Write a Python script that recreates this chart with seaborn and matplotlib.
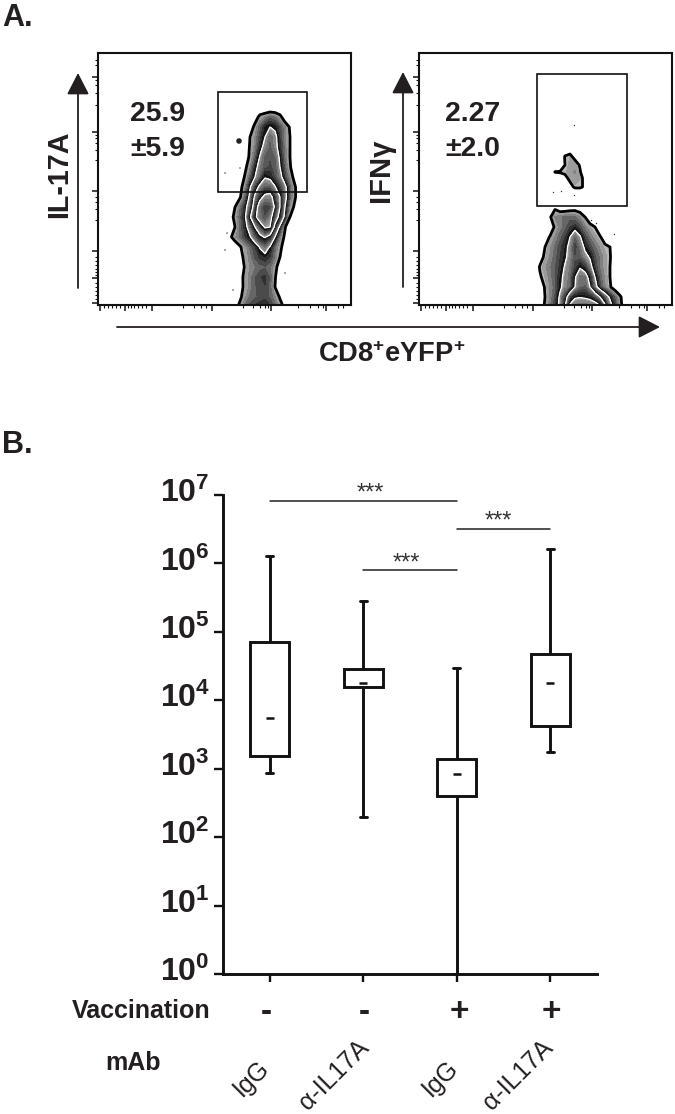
import matplotlib
matplotlib.use('Agg')
import matplotlib.pyplot as plt
from matplotlib.patches import FancyArrowPatch, Rectangle
from matplotlib.transforms import ScaledTranslation
import numpy as np
import pandas as pd
import seaborn as sns

W, H = 675, 1114
INK = '#231f20'

# panel B box plot, one five number summary per group
groups = ['IgG -', 'aIL17A -', 'IgG +', 'aIL17A +']
whisker_low = [870, 195, 1, 1780]
q1 = [1550, 15500, 400, 4250]
medians = [5600, 18000, 840, 18000]
q3 = [70000, 29000, 1380, 48000]
whisker_high = [1300000, 280000, 30000, 1600000]
vaccination = ['-', '-', '+', '+']
mab = ['IgG', 'α-IL17A', 'IgG', 'α-IL17A']
decades = [0, 1, 2, 3, 4, 5, 6, 7]

# significance bars: first group, last group, height, where the stars sit
sig_start = [0, 2, 1]
sig_end = [2, 3, 2]
sig_height = [8300000, 3200000, 790000]
sig_star = [1.08, 2.45, 1.46]

# panel A, density, contours at 1, 3, 5, 7
il17_x = [132, 137, 142, 147, 152, 157, 162, 167, 172, 177, 182, 187, 192, 197, 202]
il17_y = [198, 188, 178, 168, 158, 148, 138, 128, 118, 108, 98, 88, 78, 68, 58, 48, 38, 28, 18, 8, -2]
il17_density = [
    [0, 0, 0, 0, 0, 0, 0, 0, 0, 0, 0, 0, 0, 0, 0],
    [0, 0, 0, 0, 0, .5, 1.3, 1.6, 2, 1.8, 1.3, .4, 0, 0, 0],
    [0, 0, 0, 0, .4, 1.3, 2, 2.7, 3, 2.8, 2.2, 1.6, .9, 0, 0],
    [0, 0, 0, 0, 1, 1.6, 2.3, 3, 3.8, 3.3, 2.4, 1.7, 1, 0, 0],
    [0, 0, 0, .3, 1.1, 1.7, 2.6, 3.4, 3.9, 3.4, 2.5, 1.7, 1, 0, 0],
    [0, 0, 0, .4, 1.2, 2, 3.1, 3.9, 4.1, 3.8, 2.8, 1.8, 1, 0, 0],
    [0, 0, 0, .8, 1.5, 2.6, 3.5, 4, 4.2, 4, 3, 2, 1.1, .3, 0],
    [0, 0, .4, 1.1, 2, 3, 3.8, 4.9, 4.7, 4.1, 3.4, 2.3, 1.5, .6, 0],
    [0, 0, .7, 1.5, 2.9, 4.2, 5.4, 5.9, 5.9, 5.1, 4.2, 3.3, 2, 1.1, .2],
    [0, .2, .9, 1.9, 3.3, 5.3, 6.5, 7.4, 7.6, 6.2, 5, 3.4, 2, 1.1, .3],
    [.1, 1, 1.8, 2.6, 3.8, 6, 8, 9, 8.7, 6.7, 5, 3, 1.5, .8, 0],
    [.5, 1.3, 2, 2.8, 4.8, 6.6, 8, 8.6, 7.6, 5.8, 4.5, 2.6, 1, 0, 0],
    [.5, 1, 1.9, 2.6, 3.6, 5, 6, 7.2, 7, 4.6, 2.7, 1.1, 0, 0, 0],
    [.8, 1.5, 1.9, 2.4, 2.9, 3.8, 4.7, 5.1, 4.5, 3, 1.7, .8, 0, 0, 0],
    [0, .3, .9, 1.4, 1.9, 2.4, 3.1, 3.6, 2.9, 1.9, 1.2, .6, 0, 0, 0],
    [0, 0, .6, 1.3, 1.7, 2.2, 2.5, 2.7, 2.4, 1.8, 1, .2, 0, 0, 0],
    [0, 0, .4, 1.1, 1.6, 1.8, 2, 2.1, 1.9, 1.3, .5, 0, 0, 0, 0],
    [0, 0, .6, 1.3, 1.7, 2.1, 2.4, 2.5, 2.1, 1.1, .2, 0, 0, 0, 0],
    [0, 0, .7, 1.2, 1.7, 2.1, 2.3, 2.4, 2, 1, .2, 0, 0, 0, 0],
    [0, 0, .8, 1.5, 1.9, 2.1, 2.2, 2.3, 2.1, 1.6, .9, .1, 0, 0, 0],
    [0, .6, 1.3, 1.9, 2.3, 2.5, 2.7, 2.8, 2.5, 2, 1.4, .8, 0, 0, 0],
]
il17_dots_x = [141, 127, 142, 129, 127, 187, 135]
il17_dots_y = [164, 132, 137, 72, 55, 32, 15]

ifn_x = [116, 121, 126, 131, 136, 141, 146, 151, 156, 161, 166, 171, 176, 181, 186, 191, 196, 201, 206]
ifn_y = [98, 88, 78, 68, 58, 48, 38, 28, 18, 8, -2]
ifn_density = [
    [0, 0, 0, .6, .8, .3, .3, .4, .5, .3, 0, 0, 0, 0, 0, 0, 0, 0, 0],
    [0, 0, 0, .9, 1.6, 1.8, 1.9, 2, 1.9, 1.6, 1, .4, 0, 0, 0, 0, 0, 0, 0],
    [0, 0, 0, .2, 1.2, 1.7, 2, 2.4, 2.6, 2.2, 1.7, 1.3, 1, .3, 0, 0, 0, 0, 0],
    [0, 0, .4, 1.1, 1.6, 2, 2.4, 3, 3.8, 3.1, 2.3, 1.8, 1.4, 1.1, .5, 0, 0, 0, 0],
    [0, 0, 1, 1.5, 1.9, 2.3, 2.7, 3.3, 4.3, 3.6, 2.8, 2.3, 1.9, 1.5, 1.2, 1, .2, 0, 0],
    [0, .6, 1.2, 1.6, 2, 2.4, 2.8, 3.4, 4.1, 3.9, 3.3, 2.9, 2.2, 1.8, 1.4, 1.1, .2, 0, 0],
    [.3, 1.1, 1.5, 1.8, 2.1, 2.5, 3.1, 3.6, 4.2, 4.9, 4.4, 3.4, 2.4, 1.8, 1.4, 1, .2, 0, 0],
    [0, .9, 1.3, 1.7, 2.1, 2.7, 3.3, 3.7, 4.9, 5.7, 5.6, 4.5, 3, 2, 1.5, 1, .2, 0, 0],
    [0, .3, 1.1, 1.6, 2, 2.8, 3.4, 3.8, 5, 5.8, 5.9, 5, 3.5, 2.3, 1.6, 1.1, .5, 0, 0],
    [0, .1, 1, 1.6, 2.2, 3.2, 4.3, 6, 6.8, 6.9, 6.8, 6.6, 6, 5, 3.8, 2.8, 2, 1.2, .3],
    [0, .2, 1.2, 1.8, 2.4, 3.3, 5, 7.4, 8.2, 8.4, 8.4, 8.2, 8, 7.4, 5.5, 3.5, 2.5, 1.3, .5],
]
blob_x = [131, 136, 141, 146, 151, 156, 161, 166, 171]
blob_y = [157, 148, 140, 133, 127, 118, 112]
blob_density = [
    [0, 0, 0, .3, .4, 0, 0, 0, 0],
    [0, 0, 0, 1.1, 1.3, .7, 0, 0, 0],
    [0, 0, 0, 1, 1.4, 1.5, .9, 0, 0],
    [0, 1.05, 1.1, 1.2, 1.5, 1.6, 1.1, .2, 0],
    [0, 0, .3, .7, 1.3, 1.5, 1.3, .7, 0],
    [0, 0, 0, 0, .6, 1.2, 1.2, .8, 0],
    [0, 0, 0, 0, 0, 0, 0, 0, 0],
]
ifn_dots_x = [155, 134, 142, 155, 172, 177, 195]
ifn_dots_y = [180, 113, 114, 110, 85, 82, 71]

flow_major = [2, 27, 54, 114, 173, 228]
flow_minor = [6, 10, 14, 18, 22, 30, 33, 36, 40, 44, 48, 85, 96, 103, 108, 145, 155, 162, 167, 170, 200, 212, 220, 225, 240, 245]


def px_axes(left, top, right, bottom, **kw):
    return fig.add_axes([left / W, 1 - bottom / H, (right - left) / W, (bottom - top) / H], **kw)


def zebra(ax, x, y, density):
    # every band between two contours goes from grey to nearly black
    levels, colors = [], []
    for lo, hi, light in [(1, 3, 0.72), (3, 5, 0.62), (5, 7, 0.62), (7, 10, 0.62)]:
        steps = np.linspace(lo, hi, 8)[:-1]
        levels.extend(steps)
        colors.extend(str(g) for g in np.linspace(light, 0.08, 7))
    levels.append(10)
    ax.contourf(x, y, density, levels=levels, colors=colors)
    ax.contour(x, y, density, levels=[3, 5, 7], colors='white', linewidths=0.9)
    ax.contour(x, y, density, levels=[1], colors='black', linewidths=2)


def flow_panel(left, right, gate):
    ax = px_axes(left, 53, right, 305)
    ax.set_xlim(0, 253)
    ax.set_ylim(0, 252)
    for s in ax.spines.values():
        s.set_linewidth(1.5)
        s.set_color('#111111')
    ax.set_xticks(flow_major)
    ax.set_yticks(flow_major)
    ax.set_xticks(flow_minor, minor=True)
    ax.set_yticks(flow_minor, minor=True)
    ax.tick_params(which='major', length=4, width=1.1, labelbottom=False, labelleft=False, color='#111111')
    ax.tick_params(which='minor', length=2, width=0.8, color='#111111')
    ax.add_patch(Rectangle((gate[0], gate[1]), gate[2], gate[3], fill=False, ec='#111111', lw=1.2, zorder=4))
    return ax


sns.set_theme(style='ticks')
plt.rcParams['font.family'] = ['Liberation Sans', 'DejaVu Sans']
plt.rcParams['mathtext.fontset'] = 'custom'
plt.rcParams['mathtext.bf'] = 'Liberation Sans:bold'
plt.rcParams['mathtext.rm'] = 'Liberation Sans'

fig = plt.figure(figsize=(W / 100, H / 100), dpi=100, facecolor='white')

# full figure layer in pixels for labels and arrows
page = fig.add_axes([0, 0, 1, 1], zorder=5)
page.set_xlim(0, W)
page.set_ylim(H, 0)
page.axis('off')

# panel A
ax1 = flow_panel(98, 351, (120, 113, 89, 100))
zebra(ax1, il17_x, il17_y, il17_density)
ax1.scatter(il17_dots_x, il17_dots_y, s=[16, 1, 1, 1, 1, 1, 1], color='#222222', linewidths=0)

ax2 = flow_panel(419, 672, (118, 99, 90, 132))
zebra(ax2, ifn_x, ifn_y, ifn_density)
zebra(ax2, blob_x, blob_y, blob_density)
ax2.scatter(ifn_dots_x, ifn_dots_y, s=1, color='#333333', linewidths=0)

for x0, y0, x1, y1 in [(78, 288, 78, 73), (403, 287, 403, 72), (117, 327, 660, 327)]:
    page.add_patch(FancyArrowPatch((x0, y0), (x1, y1), arrowstyle='-|>,head_length=7,head_width=3.6',
                                   mutation_scale=1.9, lw=1.3, color=INK, shrinkA=0, shrinkB=0))

page.text(2, 26, 'A.', fontsize=22, fontweight='bold', color=INK, va='baseline')
page.text(2, 453, 'B.', fontsize=22, fontweight='bold', color=INK, va='baseline')
page.text(130, 121, '25.9', fontsize=20.4, fontweight='bold', color=INK)
page.text(130, 156, '±5.9', fontsize=20.4, fontweight='bold', color=INK)
page.text(445, 121, '2.27', fontsize=20.4, fontweight='bold', color=INK)
page.text(445, 156, '±2.0', fontsize=20.4, fontweight='bold', color=INK)
page.text(59, 174, 'IL-17A', fontsize=20.7, fontweight='bold', color=INK, rotation=90, ha='center', va='center')
page.text(381, 170, 'IFNγ', fontsize=21, fontweight='bold', color=INK, rotation=90, ha='center', va='center')
page.text(318, 362, r'$\mathbf{CD8^{+}eYFP^{+}}$', fontsize=19.6, color=INK, va='baseline')

# panel B
ax = px_axes(223, 495, 597, 974)
df = pd.DataFrame({
    'group': np.repeat(groups, 5),
    'count': np.column_stack([whisker_low, q1, medians, q3, whisker_high]).ravel(),
})
sns.boxplot(data=df, x='group', y='count', order=groups, log_scale=True, whis=(0, 100),
            width=0.415, color='white', linecolor='#111111', linewidth=2.1, capwidths=0.07,
            showfliers=False, medianprops={'visible': False}, ax=ax)
sns.scatterplot(x=np.arange(len(groups)), y=medians, marker='_', s=34, color='#111111',
                linewidth=1.8, legend=False, zorder=5, ax=ax)

for start, end, height, star in zip(sig_start, sig_end, sig_height, sig_star):
    ax.plot([start, end], [height, height], color=INK, lw=1.1, clip_on=False)
    ax.annotate('***', (star, height), xytext=(0, -3), textcoords='offset points',
                ha='center', va='bottom', fontsize=17, color='#333333', annotation_clip=False)

ax.set_xlim(-0.5, 3.5)
ax.set_ylim(1, 1e7)
ax.set_xlabel('')
ax.set_ylabel('')
ax.set_yticks([10.0 ** d for d in decades])
ax.set_yticklabels([rf'$\mathbf{{10^{{{d}}}}}$' for d in decades], fontsize=23, color=INK)
ax.minorticks_off()
ax.set_xticks(range(len(groups)))
ax.set_xticklabels([])
ax.tick_params(axis='y', length=6.5, width=1.7, pad=3, color='#111111')
ax.tick_params(axis='x', length=6, width=1.7, color='#111111')
# exponents push the labels low, lift them off the ticks
lift = ScaledTranslation(0, 5 / 100, fig.dpi_scale_trans)
for label in ax.get_yticklabels():
    label.set_transform(label.get_transform() + lift)
sns.despine(ax=ax)
for side in ['left', 'bottom']:
    ax.spines[side].set_linewidth(2.1)
    ax.spines[side].set_color('#111111')
ax.patch.set_alpha(0)

page.text(72, 1018, 'Vaccination', fontsize=18, fontweight='bold', color=INK, va='baseline')
page.text(105, 1070, 'mAb', fontsize=18, fontweight='bold', color=INK, va='baseline')
for sign, x in zip(vaccination, [266, 364, 459, 551]):
    page.text(x, 1012, sign, fontsize=24, fontweight='bold', color=INK, ha='center', va='center')
for name, x, y in zip(mab, [251, 334, 440, 518], [1078, 1075, 1078, 1075]):
    page.text(x, y, name, fontsize=18, color=INK, rotation=45, ha='center', va='center',
              rotation_mode='anchor')

fig.savefig('out.png', dpi=100, facecolor='white')
